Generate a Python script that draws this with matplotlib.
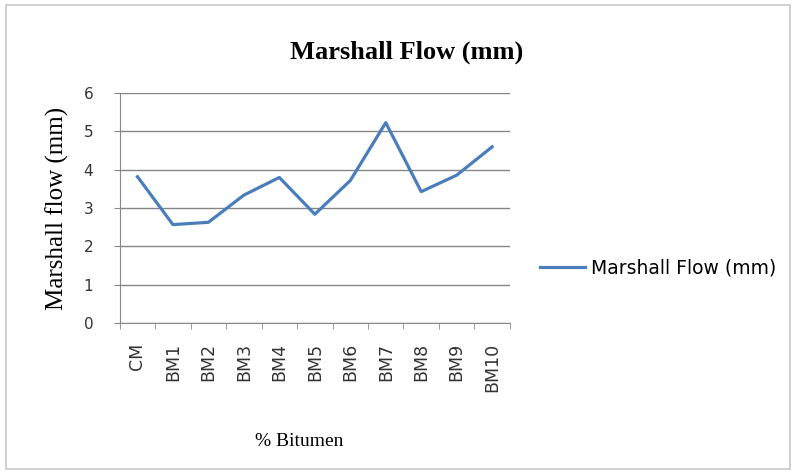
import numpy as np
import matplotlib.pyplot as plt
from matplotlib.patches import Rectangle

# data
cats = ['CM', 'BM1', 'BM2', 'BM3', 'BM4', 'BM5', 'BM6', 'BM7', 'BM8', 'BM9', 'BM10']
flow = [3.82, 2.57, 2.63, 3.34, 3.8, 2.84, 3.72, 5.23, 3.43, 3.86, 4.6]
yticks = [0, 1, 2, 3, 4, 5, 6]

fig = plt.figure(figsize=(7.93, 4.73), dpi=100)
fig.patches.append(Rectangle((0.008, 0.008), 0.988, 0.982, transform=fig.transFigure,
                             fill=False, edgecolor='#c8c8c8', linewidth=1.2))

ax = fig.add_axes([0.151, 0.317, 0.492, 0.486])
x = np.arange(len(cats))
ax.plot(x, flow, color='#4a7ebb', linewidth=2.3, label='Marshall Flow (mm)')

ax.set_xlim(-0.5, len(cats) - 0.5)
ax.set_ylim(0, 6)
ax.set_yticks(yticks)
ax.set_xticks(x)
ax.set_xticklabels(cats, rotation=90, fontsize=12.5, color='#333333')
ax.set_yticklabels([str(v) for v in yticks], fontsize=11, color='#333333')
ax.set_xticks(np.arange(-0.5, len(cats), 1), minor=True)
ax.tick_params(axis='x', which='major', length=0, pad=14)
ax.tick_params(axis='x', which='minor', length=4, color='#888888')
ax.tick_params(axis='y', length=4, color='#888888', pad=15)
ax.grid(axis='y', color='#858585', linewidth=1.0)
ax.set_axisbelow(True)
for s in ['top', 'right']:
    ax.spines[s].set_visible(False)
for s in ['left', 'bottom']:
    ax.spines[s].set_color('#888888')

ax.set_ylabel('Marshall flow (mm)', family='Liberation Serif', fontsize=18)
ax.yaxis.set_label_coords(-0.13, 0.5)
ax.set_xlabel('% Bitumen', family='Liberation Serif', fontsize=14)
ax.xaxis.set_label_coords(0.46, -0.48)
fig.text(0.513, 0.89, 'Marshall Flow (mm)', family='Liberation Serif', fontsize=19,
         fontweight='bold', ha='center', va='center')

ax.legend(loc='center left', bbox_to_anchor=(1.035, 0.24), frameon=False,
          fontsize=13.5, handlelength=2.4, handletextpad=0.3)

fig.savefig('out.png', dpi=100)
